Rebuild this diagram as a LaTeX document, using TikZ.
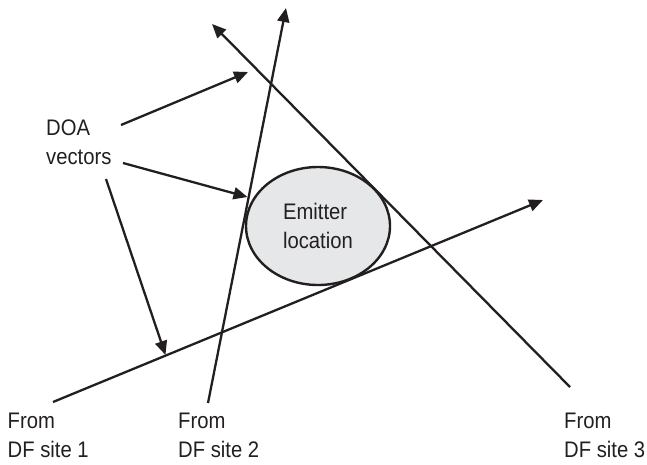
\documentclass[tikz,border=0pt]{standalone}
\usepackage{fontspec}
\setmainfont{Liberation Sans}[FakeStretch=0.9]
\usetikzlibrary{arrows.meta,shapes.geometric}
\definecolor{ink}{HTML}{231F20}
\definecolor{emfill}{HTML}{E6E7E8}
\tikzset{
  vec/.style={draw=ink, line width=2.3pt, -{Triangle[length=14pt,width=12pt]}},
  lbl/.style={inner sep=0pt, align=left, anchor=north west, text=ink,
              font=\fontsize{22.5}{28.5}\selectfont},
  emitter/.style={ellipse, draw=ink, line width=2.4pt, fill=emfill, inner sep=0pt,
              minimum width=144pt, minimum height=118pt, align=left, text=ink,
              font=\fontsize{22.5}{29}\selectfont}
}
\begin{document}
\begin{tikzpicture}[x=1pt,y=-1pt]
\useasboundingbox (0,0) rectangle (647,464);
% bearing lines
\coordinate (s1) at (53,402);  \coordinate (t1) at (543,200);
\coordinate (s2) at (208,403); \coordinate (t2) at (286,8);
\coordinate (s3) at (570,387); \coordinate (t3) at (212,24);
\node[emitter] (em) at (318,226) {Emitter\\location};
\draw[vec] (s1) -- (t1);
\draw[vec] (s2) -- (t2);
\draw[vec] (s3) -- (t3);
% labels
\node[lbl] (doa) at (46,120) {DOA\\vectors};
\node[lbl] (f1) at (7.5,413) {From\\DF site 1};
\node[lbl] (f2) at (178,413) {From\\DF site 2};
\node[lbl] (f3) at (564,413) {From\\DF site 3};
% pointer arrows
\coordinate (pa) at (121,125); \coordinate (pat) at (248,72);
\coordinate (pb) at (123,163); \coordinate (pbt) at (247.5,197);
\coordinate (pc) at (106,179); \coordinate (pct) at (165.5,355);
\draw[vec] (pa) -- (pat);
\draw[vec] (pb) -- (pbt);
\draw[vec] (pc) -- (pct);
\end{tikzpicture}
\end{document}
